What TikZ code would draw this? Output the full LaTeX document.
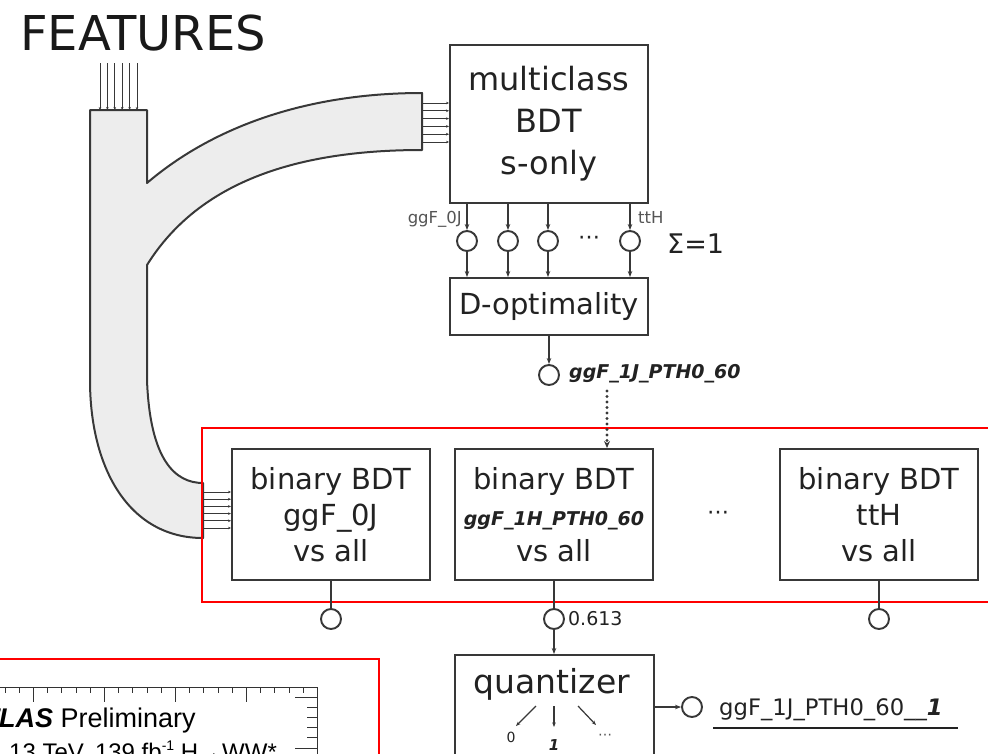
\documentclass[tikz,border=0pt]{standalone}
\usepackage{fontspec}
\setmainfont{DejaVu Sans}
\newfontfamily\atlasfont{Liberation Sans}
\usetikzlibrary{arrows.meta,calc}
\definecolor{ink}{HTML}{222222}
\definecolor{wire}{HTML}{383838}
\definecolor{tube}{HTML}{EDEDED}
\definecolor{redline}{HTML}{FF0000}
\definecolor{smallgray}{HTML}{555555}
\begin{document}
\begin{tikzpicture}[x=1pt,y=-1pt,
  box/.style={draw=wire, line width=2pt, fill=white, text=ink, align=center, inner sep=0pt},
  circ/.style={draw=wire, line width=1.9pt, circle, minimum size=20pt, inner sep=0pt, fill=white},
  arr/.style={draw=wire, line width=1.5pt, -{Stealth[length=6pt,width=4.5pt]}},
  sarr/.style={draw=wire, line width=1.2pt, -{Stealth[length=4.5pt,width=3.5pt]}},
  dotarr/.style={draw=wire, line width=3.2pt, line cap=round, dash pattern=on 0pt off 5.5pt, -{Stealth[length=7pt,width=6pt]}},
  wline/.style={draw=wire, line width=1.7pt},
  fw/.style={draw=wire, line width=1pt, -{Stealth[length=3pt,width=2.6pt]}},
  lab/.style={text=ink, inner sep=0pt},
]
\useasboundingbox (0,0) rectangle (988,753);
\clip (0,0) rectangle (988,753);

% title
\node[lab, anchor=base west, font=\fontsize{48}{48}\selectfont, text=black!90] (feat) at (20,50) {FEATURES};

% feature tube
\filldraw[fill=tube, draw=wire, line width=2pt, line join=round]
 (90,110) -- (147,110) -- (147,183)
 .. controls (215,125) and (310,93) .. (422,93)
 -- (422,150)
 .. controls (300,150) and (200,180) .. (147,265)
 -- (147,380)
 .. controls (150,460) and (175,483) .. (203,483)
 -- (203,538)
 .. controls (130,538) and (90,470) .. (90,380)
 -- cycle;

% boxes
\node[box, minimum width=198pt, minimum height=158pt, font=\fontsize{32}{42}\selectfont] (mc) at (549,124) {multiclass\\BDT\\s-only};
\node[box, minimum width=198pt, minimum height=57pt, font=\fontsize{29}{36}\selectfont] (dopt) at (549,306.5) {D-optimality};

% feature wires
\foreach \i in {0,...,5} {
  \draw[fw] ({100+7.4*\i},63) -- ({100+7.4*\i},110);
  \path (422,{103+7.8*\i}) coordinate (wm);
  \draw[fw] (wm) -- (wm -| mc.west);
}

% multiclass outputs
\foreach \n/\x in {c1/467,c2/508,c3/548,c4/630} {
  \node[circ] (\n) at (\x,241) {};
  \draw[arr] (\n |- mc.south) -- (\n.north);
  \draw[arr] (\n.south) -- (\n |- dopt.north);
}
\node[lab, font=\fontsize{22}{22}\selectfont] (cdots) at (589,240) {⋯};
\node[lab, anchor=base west, font=\fontsize{27}{27}\selectfont] (sig) at (667,253) {Σ=1};
\node[lab, anchor=base east, font=\fontsize{16.5}{16.5}\selectfont, text=smallgray] (l0j) at (462,223) {ggF\_0J};
\node[lab, anchor=base west, font=\fontsize{16.5}{16.5}\selectfont, text=smallgray] (ltth) at (638,223) {ttH};

% D-optimality output
\node[circ] (cd) at (549,375) {};
\draw[arr] (dopt.south) -- (cd.north);
\node[lab, anchor=west, font=\fontsize{19}{19}\selectfont\bfseries\itshape] (cdl) at ($(cd.east)+(9,-1)$) {ggF\_1J\_PTH0\_60};

% red frame around binary BDTs
\draw[redline, line width=2.2pt] (202,428) rectangle (1000,602);

% binary boxes
\node[box, minimum width=198pt, minimum height=131pt, font=\fontsize{29}{36}\selectfont] (b1) at (331,514.5) {binary BDT\\ggF\_0J\\vs all};
\node[box, minimum width=198pt, minimum height=131pt, font=\fontsize{29}{36}\selectfont] (b2) at (554,514.5) {binary BDT\\{\fontsize{19}{36}\selectfont\bfseries\itshape ggF\_1H\_PTH0\_60}\\vs all};
\node[box, minimum width=198pt, minimum height=131pt, font=\fontsize{29}{36}\selectfont] (b3) at (879,514.5) {binary BDT\\ttH\\vs all};
\node[lab, font=\fontsize{22}{22}\selectfont] (bdots) at (718,515) {⋯};

% dotted arrow
\coordinate (dtop) at (607,391);
\draw[dotarr] (dtop) -- (dtop |- b2.north);

% feature wires into binary BDT
\foreach \i in {0,...,5} {
  \path (203,{492+7.2*\i}) coordinate (wb);
  \draw[fw] (wb) -- (wb -| b1.west);
}

% binary outputs
\node[circ] (o1) at (331,619) {};
\node[circ] (o2) at (554,619) {};
\node[circ] (o3) at (879,619) {};
\draw[wline] (b1.south) -- (o1.north);
\draw[wline] (b2.south) -- (o2.north);
\draw[wline] (b3.south) -- (o3.north);
\node[lab, anchor=west, font=\fontsize{19}{19}\selectfont] (v613) at ($(o2.east)+(3,0)$) {0.613};

% quantizer
\node[box, minimum width=199pt, minimum height=140pt] (qz) at (554,725) {};
\draw[arr] (o2.south) -- (qz.north);
\node[lab, anchor=base, font=\fontsize{33}{33}\selectfont] (qzt) at (552,693) {quantizer};
\coordinate (qa1) at (536,706); \coordinate (qe1) at (516,726);
\coordinate (qa2) at (554,706); \coordinate (qe2) at (554,727);
\coordinate (qa3) at (578,706); \coordinate (qe3) at (596,725);
\draw[sarr] (qa1) -- (qe1);
\draw[sarr] (qa2) -- (qe2);
\draw[sarr] (qa3) -- (qe3);
\node[lab, font=\fontsize{14}{14}\selectfont] (q0) at (511,737) {0};
\node[lab, font=\fontsize{15}{15}\selectfont\bfseries\itshape] (q1) at (554,745) {1};
\node[lab, font=\fontsize{14}{14}\selectfont, text=smallgray] (qd) at (605,737) {⋯};

% quantizer output
\node[circ] (oq) at (692,707) {};
\draw[arr] (qz.east |- oq) -- (oq.west);
\node[lab, anchor=base west, font=\fontsize{22.7}{23}\selectfont] (ql) at (719,715) {ggF\_1J\_PTH0\_60\_\_{\bfseries\itshape 1}};
\coordinate (ul1) at (713,728);
\coordinate (ul2) at (958,728);
\draw[ink, line width=1.8pt] (ul1) -- (ul2);

% ATLAS plot fragment
\draw[redline, line width=2.2pt] (-10,659) -- (379,659) -- (379,800);
\draw[black!80, line width=1pt] (-10,687) -- (317,687) -- (317,800);
\foreach \k in {-2,...,20} {
  \pgfmathsetmacro{\tx}{33.5+14.2*\k}
  \pgfmathtruncatemacro{\km}{mod(\k+10,5)}
  \ifnum\km=0
    \draw[black!80, line width=1pt] (\tx,687) -- (\tx,702);
  \else
    \draw[black!80, line width=1pt] (\tx,687) -- (\tx,693);
  \fi
}
\draw[black!80, line width=1pt] (317,697) -- (295,697);
\draw[black!80, line width=1pt] (317,748) -- (295,748);
\foreach \ty in {707.2,717.4,727.6,737.8} {
  \draw[black!80, line width=1pt] (317,\ty) -- (307,\ty);
}
\node[lab, anchor=base west, text=black, font=\atlasfont\fontsize{27}{27}\selectfont] (atl) at (-35,727) {\textbf{\textit{ATLAS}} Preliminary};
\node[lab, anchor=base west, text=black, font=\atlasfont\fontsize{24}{24}\selectfont] (atl2) at (9,760) {13 TeV, 139 fb\raisebox{0.4em}{\fontsize{14}{14}\selectfont -1} H→WW*};
\end{tikzpicture}
\end{document}
